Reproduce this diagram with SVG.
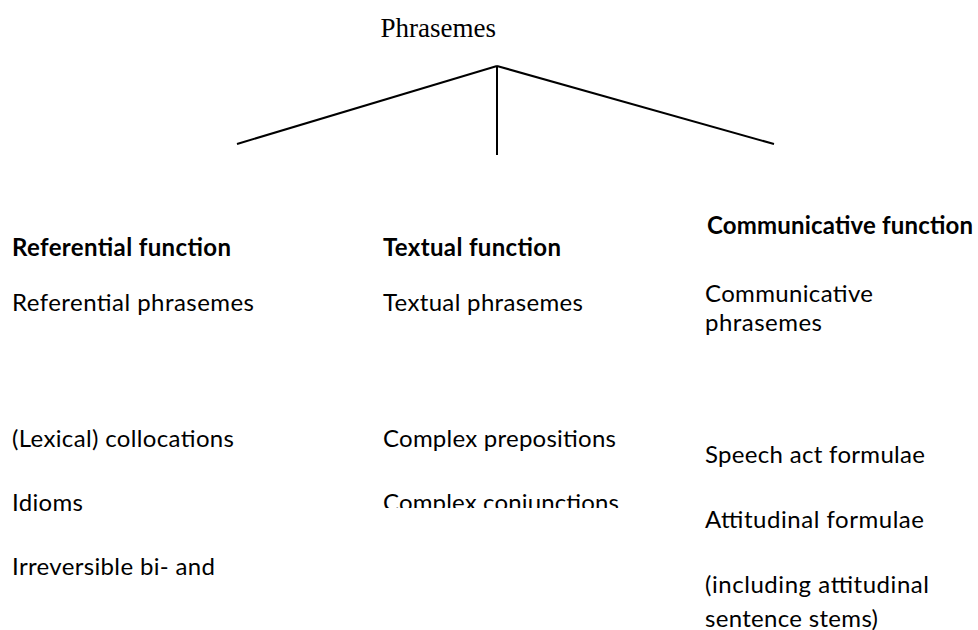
<svg xmlns="http://www.w3.org/2000/svg" width="978" height="630" viewBox="0 0 978 630">
<defs>
<style>
text{font-family:Lato,"Open Sans","Liberation Sans",sans-serif;font-size:24px;fill:#000}
.b{font-weight:bold}
.ttl{font-family:"Liberation Serif","DejaVu Serif",serif;font-size:27px}
#connectors line{stroke:#000;stroke-width:2;fill:none}
</style>
<clipPath id="clipMid"><rect x="370" y="400" width="320" height="108"/></clipPath>
</defs>
<rect width="978" height="630" fill="#fff"/>
<g id="connectors">
<line x1="497" y1="66" x2="237" y2="144"/>
<line x1="497" y1="66" x2="497" y2="155"/>
<line x1="497" y1="66" x2="774" y2="144"/>
</g>
<g id="root"><text class="ttl" x="496" y="37" text-anchor="end">Phrasemes</text></g>
<g id="referential">
<text class="b" x="12" y="256" textLength="219" lengthAdjust="spacing">Referential function</text>
<text x="12" y="311" textLength="242" lengthAdjust="spacing">Referential phrasemes</text>
<text x="12" y="447" textLength="222" lengthAdjust="spacing">(Lexical) collocations</text>
<text x="12" y="511" textLength="71" lengthAdjust="spacing">Idioms</text>
<text x="12" y="575" textLength="203" lengthAdjust="spacing">Irreversible bi- and</text>
</g>
<g id="textual">
<text class="b" x="383" y="256" textLength="178" lengthAdjust="spacing">Textual function</text>
<text x="383" y="311" textLength="200" lengthAdjust="spacing">Textual phrasemes</text>
<text x="383" y="447" textLength="233" lengthAdjust="spacing">Complex prepositions</text>
<text x="383" y="511" textLength="236" lengthAdjust="spacing" clip-path="url(#clipMid)">Complex conjunctions</text>
</g>
<g id="communicative">
<text class="b" x="707" y="234" textLength="266" lengthAdjust="spacing">Communicative function</text>
<text x="705" y="302" textLength="168" lengthAdjust="spacing">Communicative</text>
<text x="705" y="331" textLength="117" lengthAdjust="spacing">phrasemes</text>
<text x="705" y="463" textLength="220" lengthAdjust="spacing">Speech act formulae</text>
<text x="705" y="528" textLength="219" lengthAdjust="spacing">Attitudinal formulae</text>
<text x="705" y="593" textLength="224" lengthAdjust="spacing">(including attitudinal</text>
<text x="705" y="627" textLength="173" lengthAdjust="spacing">sentence stems)</text>
</g>
</svg>
